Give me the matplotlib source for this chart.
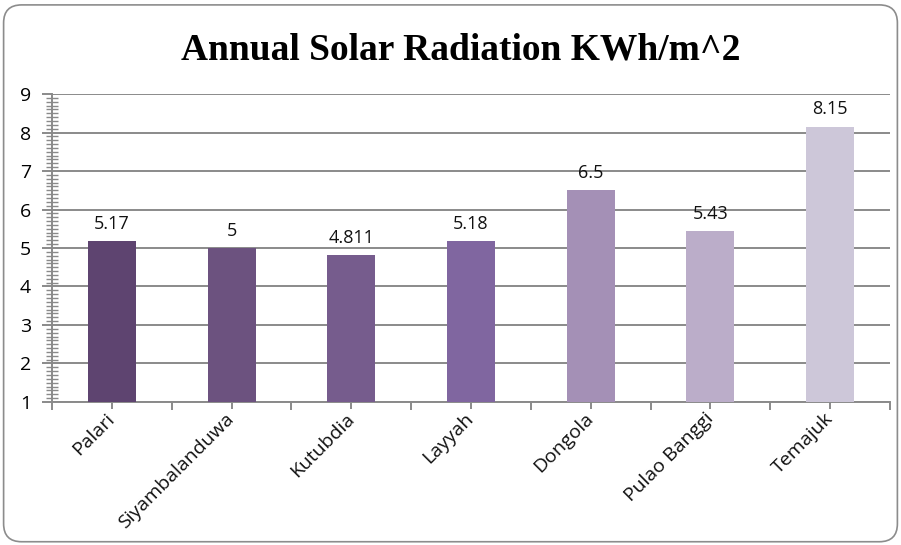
import matplotlib
matplotlib.use("Agg")
import matplotlib.pyplot as plt
from matplotlib.patches import FancyBboxPatch
from matplotlib.ticker import MultipleLocator, FixedLocator
import matplotlib.transforms as mtransforms
import numpy as np

categories = ["Palari", "Siyambalanduwa", "Kutubdia", "Layyah", "Dongola", "Pulao Banggi", "Temajuk"]
values = [5.17, 5.0, 4.811, 5.18, 6.5, 5.43, 8.15]
value_labels = ["5.17", "5", "4.811", "5.18", "6.5", "5.43", "8.15"]
colors = ["#5E4470", "#6C527F", "#765C8D", "#8066A0", "#A490B6", "#BBADC9", "#CDC7D9"]
title = "Annual Solar Radiation KWh/m^2"

fig = plt.figure(figsize=(9.01, 5.45), dpi=100)
border = FancyBboxPatch((0.004, 0.006), 0.992, 0.985, boxstyle="round,pad=0,rounding_size=0.02",
                        transform=fig.transFigure, facecolor="none", edgecolor="#8c8c8c",
                        linewidth=1.2, mutation_aspect=901/545, zorder=-5)
fig.patches.append(border)

ax = fig.add_axes([0.0577, 0.2624, 0.9301, 0.5651])
ax.set_facecolor("none")
x = np.arange(len(categories))
ax.bar(x, values, width=0.4, color=colors, zorder=3)
for xi, v, lab in zip(x, values, value_labels):
    ax.text(xi, v + 0.22, lab, ha="center", va="bottom", fontsize=13,
            family="Open Sans", color="#111111")

ax.set_xlim(-0.5, len(categories) - 0.5)
ax.set_ylim(1, 9)
ax.yaxis.set_major_locator(MultipleLocator(1))
ax.yaxis.set_minor_locator(MultipleLocator(0.1))
ax.grid(axis="y", which="major", color="#8a8a8a", linewidth=1.4, zorder=0)
for s in ["top", "right"]:
    ax.spines[s].set_visible(False)
for s in ["left", "bottom"]:
    ax.spines[s].set_color("#8a8a8a")
    ax.spines[s].set_linewidth(1.4)

ax.set_xticks(x)
ax.set_xticklabels(categories, rotation=45, ha="right", va="center",
                   rotation_mode="anchor", fontsize=14, family="Open Sans", color="#111111")
offset = mtransforms.ScaledTranslation(6 / 100, 0, fig.dpi_scale_trans)
for lab in ax.get_xticklabels():
    lab.set_transform(lab.get_transform() + offset)
ax.xaxis.set_minor_locator(FixedLocator(np.arange(-0.5, len(categories), 1.0)))
ax.tick_params(axis="x", which="major", direction="inout", length=10, width=1.4,
               color="#8a8a8a", pad=5)
ax.tick_params(axis="x", which="minor", direction="out", length=6, width=1.4, color="#8a8a8a")
ax.tick_params(axis="y", which="major", direction="out", length=7, width=1.4,
               color="#8a8a8a", labelsize=14, pad=8)
ax.tick_params(axis="y", which="minor", direction="inout", length=8, width=1.0, color="#8a8a8a")
for lab in ax.get_yticklabels():
    lab.set_family("Open Sans")

fig.text(0.5116, 0.909, title, ha="center", va="center", fontsize=27,
         family="Liberation Serif", weight="bold", color="black")

fig.savefig("out.png", dpi=100)
